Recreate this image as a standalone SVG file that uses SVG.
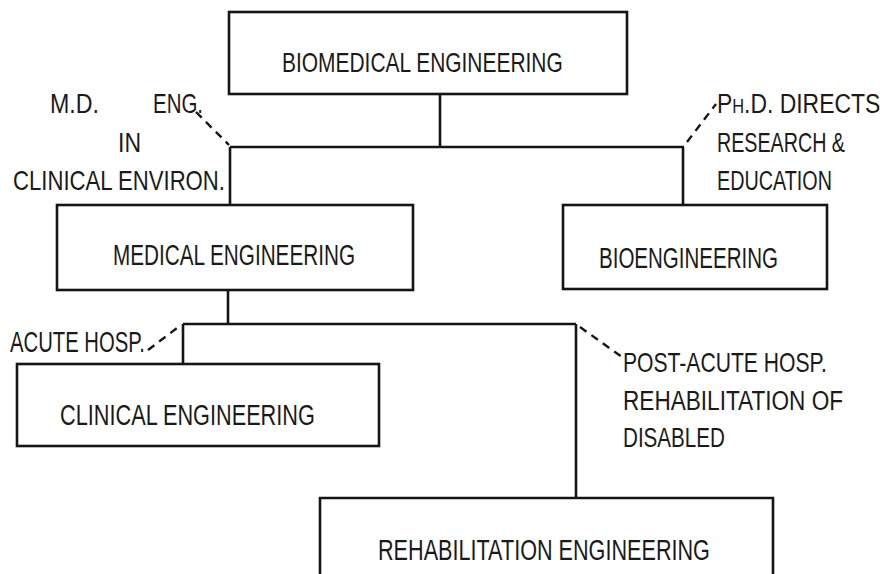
<svg xmlns="http://www.w3.org/2000/svg" width="885" height="574" viewBox="0 0 885 574">
<style>
.box{fill:none;stroke:#151515;stroke-width:2.6}
.ln{fill:none;stroke:#151515;stroke-width:2.6}
.dash{fill:none;stroke:#151515;stroke-width:2.4;stroke-dasharray:8 6}
text{font-family:"Liberation Sans","DejaVu Sans",sans-serif;font-size:28px;fill:#1a1a1a}
.big{font-size:30px}
</style>
<rect width="885" height="574" fill="#fff"/>
<g id="connectors">
<path class="ln" d="M440 94 V147 M230 147 H684 M230 147 V205 M683 147 V205"/>
<path class="ln" d="M228 290 V324 M183 324 H576 M183 324 V364 M576 324 V498"/>
<path class="dash" d="M196 112 L229 145"/>
<path class="dash" d="M687 142 L716 104"/>
<path class="dash" d="M148 350 L181 325"/>
<path class="dash" d="M580 327 L622 357"/>
</g>
<g id="biomedical">
<rect class="box" x="229" y="12" width="398" height="82"/>
<text transform="translate(282 72) scale(0.735 1)" textLength="382" lengthAdjust="spacingAndGlyphs">BIOMEDICAL ENGINEERING</text>
</g>
<g id="medical">
<rect class="box" x="57" y="205" width="356" height="85"/>
<text class="big" transform="translate(113 265) scale(0.676 1)" textLength="358" lengthAdjust="spacingAndGlyphs">MEDICAL ENGINEERING</text>
</g>
<g id="bioengineering">
<rect class="box" x="563" y="205" width="264" height="84"/>
<text class="big" transform="translate(599 268) scale(0.668 1)" textLength="268" lengthAdjust="spacingAndGlyphs">BIOENGINEERING</text>
</g>
<g id="clinical">
<rect class="box" x="17" y="364" width="362" height="82"/>
<text class="big" transform="translate(60 425) scale(0.71 1)" textLength="359" lengthAdjust="spacingAndGlyphs">CLINICAL ENGINEERING</text>
</g>
<g id="rehabilitation">
<path class="box" d="M320 580 V498 H773 V580"/>
<text class="big" transform="translate(378 560) scale(0.693 1)" textLength="479" lengthAdjust="spacingAndGlyphs">REHABILITATION ENGINEERING</text>
</g>
<g id="annotations">
<text transform="translate(50 113) scale(0.83 1)" textLength="59" lengthAdjust="spacingAndGlyphs">M.D.</text>
<text transform="translate(153 113) scale(0.73 1)" textLength="68.5" lengthAdjust="spacingAndGlyphs">ENG.</text>
<text transform="translate(118 152) scale(0.82 1)" textLength="28" lengthAdjust="spacingAndGlyphs">IN</text>
<text transform="translate(13 190) scale(0.788 1)" textLength="269" lengthAdjust="spacingAndGlyphs">CLINICAL ENVIRON.</text>
<text transform="translate(717 113) scale(0.816 1)" textLength="200" lengthAdjust="spacingAndGlyphs">P<tspan style="font-size:20px">H</tspan>.D. DIRECTS</text>
<text transform="translate(717 152) scale(0.703 1)" textLength="182" lengthAdjust="spacingAndGlyphs">RESEARCH &amp;</text>
<text transform="translate(717 190) scale(0.697 1)" textLength="165" lengthAdjust="spacingAndGlyphs">EDUCATION</text>
<text class="big" transform="translate(10 352) scale(0.664 1)" textLength="203" lengthAdjust="spacingAndGlyphs">ACUTE HOSP.</text>
<text transform="translate(623 372) scale(0.741 1)" textLength="275" lengthAdjust="spacingAndGlyphs">POST-ACUTE HOSP.</text>
<text transform="translate(623 410) scale(0.775 1)" textLength="284" lengthAdjust="spacingAndGlyphs">REHABILITATION OF</text>
<text transform="translate(623 447) scale(0.736 1)" textLength="138.5" lengthAdjust="spacingAndGlyphs">DISABLED</text>
</g>
</svg>
